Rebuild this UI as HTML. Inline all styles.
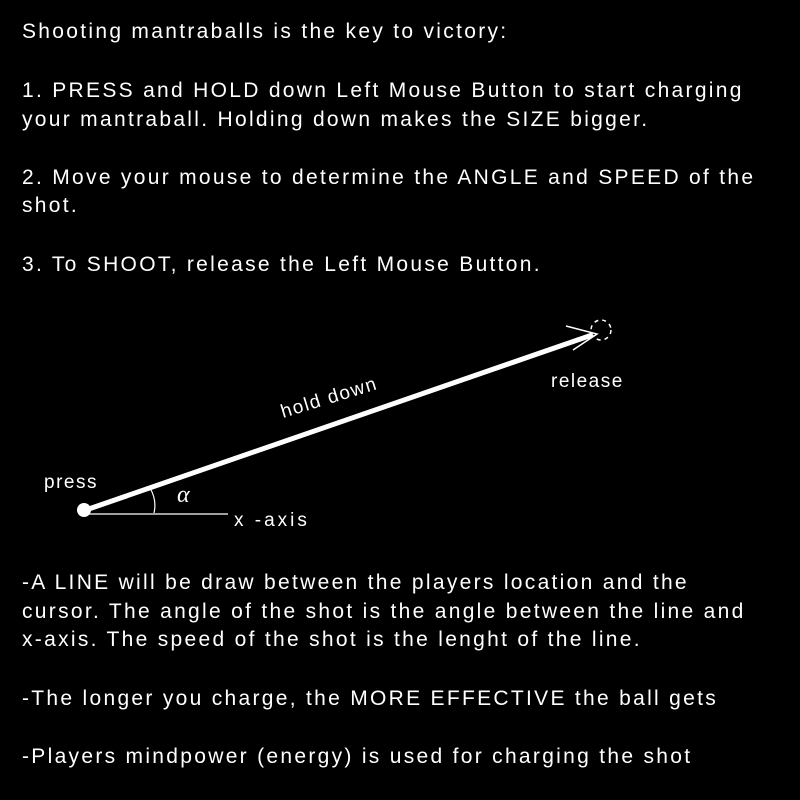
<!DOCTYPE html>
<html>
<head>
<meta charset="utf-8">
<style>
  html, body { margin: 0; padding: 0; background: #000; }
  body { width: 800px; height: 800px; position: relative; overflow: hidden; }
  .t {
    position: absolute;
    left: 22px;
    color: #fff;
    font-family: "Liberation Sans", sans-serif;
    font-size: 21px;
    white-space: nowrap;
    line-height: 24px;
    letter-spacing: 2.3px;
  }
  svg { position: absolute; left: 0; top: 0; }
  svg text { letter-spacing: 1.5px; }
</style>
</head>
<body>
<div class="t" style="top:20px">Shooting mantraballs is the key to victory:</div>
<div class="t" style="top:79px">1. PRESS and HOLD down Left Mouse Button to start charging</div>
<div class="t" style="top:108px">your mantraball. Holding down makes the SIZE bigger.</div>
<div class="t" style="top:166px">2. Move your mouse to determine the ANGLE and SPEED of the</div>
<div class="t" style="top:194px">shot.</div>
<div class="t" style="top:253px">3. To SHOOT, release the Left Mouse Button.</div>

<svg width="800" height="800">
  <line x1="83" y1="514" x2="228" y2="514" stroke="#fff" stroke-width="1.2"/>
  <line x1="83" y1="511" x2="592" y2="335" stroke="#fff" stroke-width="5"/>
  <circle cx="84" cy="510" r="7" fill="#fff"/>
  <path d="M150 488 Q157 500 154 513" stroke="#fff" stroke-width="1.2" fill="none"/>
  <text x="177" y="502" fill="#fff" font-family="Liberation Serif, serif" font-style="italic" font-size="24">α</text>
  <path d="M566 326 L597 334 L573 350" stroke="#fff" stroke-width="1.5" fill="none"/>
  <circle cx="601" cy="330" r="10" stroke="#fff" stroke-width="1.5" stroke-dasharray="4 4" fill="none"/>
  <text x="44" y="488" fill="#fff" font-family="Liberation Sans, sans-serif" font-size="19">press</text>
  <text x="551" y="387" fill="#fff" font-family="Liberation Sans, sans-serif" font-size="19">release</text>
  <text x="283" y="418" fill="#fff" font-family="Liberation Sans, sans-serif" font-size="19" transform="rotate(-17 283 418)">hold down</text>
  <text x="234" y="526" fill="#fff" font-family="Liberation Sans, sans-serif" font-size="19" style="letter-spacing:3px">x -axis</text>
</svg>

<div class="t" style="top:571px">-A LINE will be draw between the players location and the</div>
<div class="t" style="top:600px">cursor. The angle of the shot is the angle between the line and</div>
<div class="t" style="top:628px">x-axis. The speed of the shot is the lenght of the line.</div>
<div class="t" style="top:687px">-The longer you charge, the MORE EFFECTIVE the ball gets</div>
<div class="t" style="top:745px">-Players mindpower (energy) is used for charging the shot</div>
</body>
</html>
